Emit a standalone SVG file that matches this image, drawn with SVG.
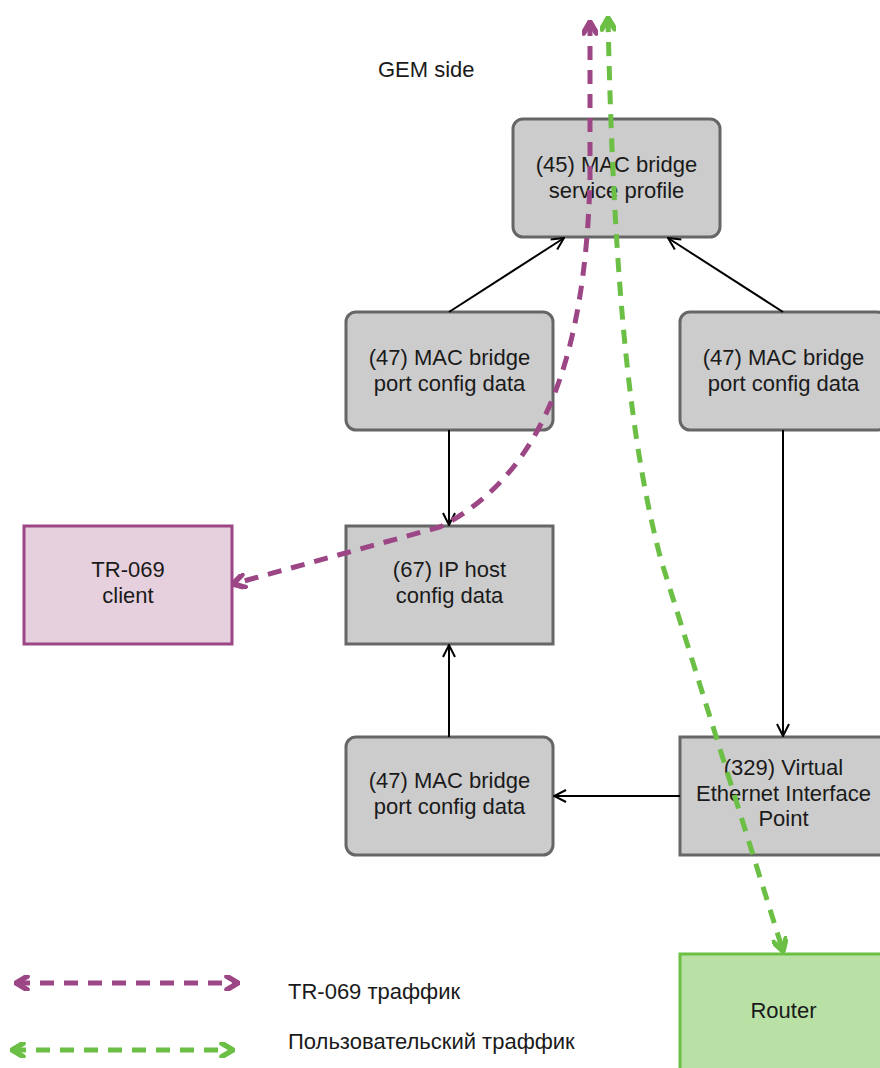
<svg xmlns="http://www.w3.org/2000/svg" width="880" height="1068" viewBox="0 0 880 1068">
<defs>
<style>
.box{fill:#cccccc;stroke:#666666;stroke-width:3}
.t{font-family:"Liberation Sans",Arial,sans-serif;font-size:22px;fill:#1a1a1a;text-anchor:middle}
.tl{font-family:"Liberation Sans",Arial,sans-serif;font-size:22px;fill:#1a1a1a}
.c{fill:none;stroke:#000;stroke-width:2}
.p{fill:none;stroke:#9c4685;stroke-width:5;stroke-dasharray:14 10}
.g{fill:none;stroke:#6cbf45;stroke-width:5;stroke-dasharray:14 10}
</style>
<marker id="ar" viewBox="0 0 14 14" refX="13" refY="7" markerWidth="14" markerHeight="14" markerUnits="userSpaceOnUse" orient="auto-start-reverse">
<path d="M1,1 L13,7 L1,13" fill="none" stroke="#000" stroke-width="2"/>
</marker>
<marker id="ap" viewBox="0 0 16 16" refX="14" refY="8" markerWidth="16" markerHeight="16" markerUnits="userSpaceOnUse" orient="auto-start-reverse">
<path d="M3,1.5 L14,8 L3,14.5" fill="none" stroke="#9c4685" stroke-width="5.5" stroke-linejoin="round" stroke-linecap="round"/>
</marker>
<marker id="ag" viewBox="0 0 16 16" refX="14" refY="8" markerWidth="16" markerHeight="16" markerUnits="userSpaceOnUse" orient="auto-start-reverse">
<path d="M3,1.5 L14,8 L3,14.5" fill="none" stroke="#6cbf45" stroke-width="5.5" stroke-linejoin="round" stroke-linecap="round"/>
</marker>
</defs>
<rect width="880" height="1068" fill="#ffffff"/>
<text class="tl" x="378" y="77">GEM side</text>

<g id="n45"><rect class="box" x="513" y="119" width="207" height="118" rx="10"/>
<text class="t" x="616.5" y="172">(45) MAC bridge</text><text class="t" x="616.5" y="198">service profile</text></g>
<g id="n47a"><rect class="box" x="346" y="312" width="207" height="118" rx="10"/>
<text class="t" x="449.5" y="365">(47) MAC bridge</text><text class="t" x="449.5" y="391">port config data</text></g>
<g id="n47b"><rect class="box" x="680" y="312" width="207" height="118" rx="10"/>
<text class="t" x="783.5" y="365">(47) MAC bridge</text><text class="t" x="783.5" y="391">port config data</text></g>
<g id="n67"><rect class="box" x="346" y="526" width="207" height="118"/>
<text class="t" x="449.5" y="577">(67) IP host</text><text class="t" x="449.5" y="603">config data</text></g>
<g id="tr069"><rect x="24" y="526" width="208" height="118" fill="#e6d0de" stroke="#9c4685" stroke-width="3"/>
<text class="t" x="128" y="577">TR-069</text><text class="t" x="128" y="603">client</text></g>
<g id="n47c"><rect class="box" x="346" y="737" width="207" height="118" rx="10"/>
<text class="t" x="449.5" y="788">(47) MAC bridge</text><text class="t" x="449.5" y="814">port config data</text></g>
<g id="n329"><rect class="box" x="680" y="737" width="207" height="118"/>
<text class="t" x="783.5" y="775">(329) Virtual</text><text class="t" x="783.5" y="801">Ethernet Interface</text><text class="t" x="783.5" y="826">Point</text></g>
<g id="router"><rect x="680" y="954" width="207" height="118" fill="#b9e0a5" stroke="#6cbf45" stroke-width="3"/>
<text class="t" x="783.5" y="1018">Router</text></g>

<g id="connectors">
<path class="c" d="M449,312 L564,238" marker-end="url(#ar)"/>
<path class="c" d="M783,312 L668,238" marker-end="url(#ar)"/>
<path class="c" d="M449,430 L449,525" marker-end="url(#ar)"/>
<path class="c" d="M783,430 L783,736" marker-end="url(#ar)"/>
<path class="c" d="M449,737 L449,645" marker-end="url(#ar)"/>
<path class="c" d="M680,796 L554,796" marker-end="url(#ar)"/>
<path class="p" d="M590,22 L590,180 C585,360 542,475 440,527 L233,584" marker-start="url(#ap)" marker-end="url(#ap)"/>
<path class="g" d="M608,18 C614,300 632,450 661,560 L783,951" marker-start="url(#ag)" marker-end="url(#ag)"/>
<path class="p" d="M16,983 L238,983" marker-start="url(#ap)" marker-end="url(#ap)"/>
<path class="g" d="M12,1050 L233,1050" marker-start="url(#ag)" marker-end="url(#ag)"/>
</g>
<text class="tl" x="288" y="999">TR-069 траффик</text>
<text class="tl" x="288" y="1049">Пользовательский траффик</text>
</svg>
